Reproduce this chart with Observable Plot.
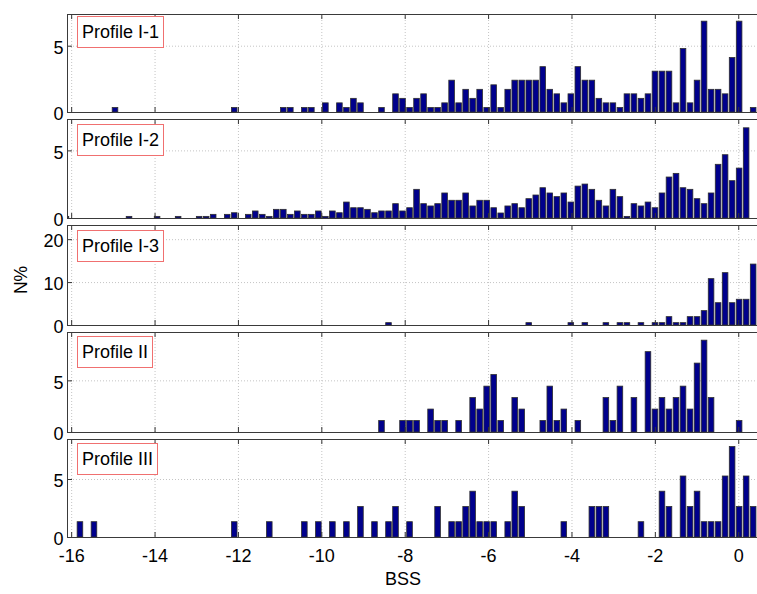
<!DOCTYPE html>
<html>
<head>
<meta charset="utf-8">
<script src="https://cdn.jsdelivr.net/npm/d3@7"></script>
<script src="https://cdn.jsdelivr.net/npm/@observablehq/plot@0.6"></script>
<style>
  body { margin: 0; background: #fff; }
  #chart { position: relative; width: 757px; height: 594px; overflow: hidden;
           font-family: "Liberation Sans", Arial, Helvetica, sans-serif; color: #000; }
  #chart svg { position: absolute; left: 0; }
  .tag { position: absolute; left: 77px; height: 30px; line-height: 30px; padding: 0 4px;
         border: 1px solid #f07070; background: #fff; font-size: 18px; white-space: nowrap; }
  .ylab { position: absolute; left: 21px; top: 280px; font-size: 17.5px;
          transform: translate(-50%, -50%) rotate(-90deg); white-space: nowrap; }
  .xlab { position: absolute; left: 403px; top: 579px; font-size: 18px;
          transform: translate(-50%, -50%); white-space: nowrap; }
</style>
</head>
<body>
<div id="chart"></div>
<script>
// Histogram bins of BSS: centre of the first bin and common bin width
const binStart = -16.126;
const binWidth = 0.1682;

const xTicks = [-16, -14, -12, -10, -8, -6, -4, -2, 0];

// N% per bin, one entry per bin from left to right (99 bins)
const profileI1 = [
  0, 0, 0, 0, 0, 0, 0, 0.34, 0, 0,
  0, 0, 0, 0, 0, 0, 0, 0, 0, 0,
  0, 0, 0, 0, 0.34, 0, 0, 0, 0, 0,
  0, 0.34, 0.34, 0, 0.34, 0.34, 0, 0.69, 0, 0.69,
  0.34, 1.03, 0.69, 0, 0, 0.34, 0, 1.37, 1.03, 0.34,
  1.03, 1.37, 0.34, 0.34, 0.69, 2.40, 0.69, 1.71, 1.03, 1.71,
  0.34, 2.05, 0.34, 1.71, 2.40, 2.40, 2.40, 2.40, 3.42, 1.71,
  1.37, 0.69, 1.37, 3.42, 2.40, 2.40, 1.03, 0.69, 0.69, 0.34,
  1.37, 1.37, 1.03, 1.37, 3.08, 3.08, 3.08, 0.69, 4.79, 0.69,
  2.40, 6.85, 1.71, 1.71, 1.37, 4.11, 6.85, 0, 0.34
];
const profileI2 = [
  0.12, 0, 0, 0, 0, 0, 0, 0, 0, 0.12,
  0, 0, 0, 0.12, 0, 0, 0.12, 0, 0, 0.12,
  0.12, 0.27, 0, 0.27, 0.39, 0, 0.27, 0.52, 0.27, 0.12,
  0.64, 0.64, 0.27, 0.52, 0.27, 0.27, 0.52, 0.12, 0.52, 0.39,
  1.18, 0.76, 0.76, 0.64, 0.39, 0.52, 0.52, 1.06, 0.52, 0.76,
  2.12, 1.06, 0.89, 1.06, 1.85, 1.31, 1.31, 1.85, 0.89, 1.31,
  1.31, 0.76, 0.37, 0.89, 1.06, 0.76, 1.43, 1.70, 2.24, 1.85,
  1.58, 1.85, 1.18, 2.36, 2.51, 2.12, 1.31, 0.89, 2.12, 1.58,
  0.12, 1.06, 0.89, 1.18, 0.76, 1.85, 3.03, 3.30, 2.24, 2.12,
  1.43, 1.06, 1.85, 3.97, 4.68, 2.76, 3.69, 6.67, 0
];
const profileI3 = [
  0, 0, 0, 0, 0, 0, 0, 0, 0, 0,
  0, 0, 0, 0, 0, 0, 0, 0, 0, 0,
  0, 0, 0, 0, 0, 0, 0, 0, 0, 0,
  0, 0, 0, 0, 0, 0, 0, 0, 0, 0,
  0, 0, 0, 0, 0, 0, 0.55, 0, 0, 0,
  0, 0, 0, 0, 0, 0, 0, 0, 0, 0,
  0, 0, 0, 0, 0, 0, 0.55, 0, 0, 0,
  0, 0, 0.55, 0, 0.55, 0, 0, 0.55, 0, 0.55,
  0.55, 0, 0.55, 0, 0.55, 0.55, 1.95, 0.55, 0.55, 1.95,
  1.95, 3.35, 10.8, 5.2, 12.2, 5.2, 6.0, 6.0, 14.2
];
const profileII = [
  0, 0, 0, 0, 0, 0, 0, 0, 0, 0,
  0, 0, 0, 0, 0, 0, 0, 0, 0, 0,
  0, 0, 0, 0, 0, 0, 0, 0, 0, 0,
  0, 0, 0, 0, 0, 0, 0, 0, 0, 0,
  0, 0, 0, 0, 0, 1.11, 0, 0, 1.11, 1.11,
  1.11, 0, 2.22, 1.11, 1.11, 0, 1.11, 0, 3.33, 2.22,
  4.44, 5.56, 1.11, 0, 3.33, 2.22, 0, 0, 1.11, 4.44,
  1.11, 2.22, 0, 1.11, 0, 0, 0, 3.33, 1.11, 4.44,
  0, 3.33, 0, 7.78, 2.22, 3.33, 2.22, 3.33, 4.44, 2.22,
  6.67, 8.89, 3.33, 0, 0, 0, 1.11, 0, 0
];
const profileIII = [
  0, 0, 1.32, 0, 1.32, 0, 0, 0, 0, 0,
  0, 0, 0, 0, 0, 0, 0, 0, 0, 0,
  0, 0, 0, 0, 1.32, 0, 0, 0, 0, 1.32,
  0, 0, 0, 0, 1.32, 0, 1.32, 0, 1.32, 0,
  1.32, 0, 2.63, 0, 1.32, 0, 1.32, 2.63, 0, 1.32,
  0, 0, 0, 2.63, 0, 1.32, 1.32, 2.63, 3.95, 1.32,
  1.32, 1.32, 0, 1.32, 3.95, 2.63, 0, 0, 0, 0,
  0, 1.32, 0, 0, 0, 2.63, 2.63, 2.63, 0, 0,
  0, 0, 1.32, 0, 0, 3.95, 2.63, 0, 5.26, 2.63,
  3.95, 1.32, 1.32, 1.32, 5.26, 7.8, 2.63, 5.26, 2.63
];

const panelNames = ["Profile I-1", "Profile I-2", "Profile I-3", "Profile II", "Profile III"];
const panelValues = [profileI1, profileI2, profileI3, profileII, profileIII];
const panelYMax = [7.39, 7.32, 23.3, 9.68, 8.45];
const panelYTicks = [[0, 5], [0, 5], [0, 10, 20], [0, 5], [0, 5]];

// Panel geometry on the page
const panelTop = [14, 119, 225, 332, 439];
const panelHeight = [98, 99, 100, 100, 98];
const tagTop = [16, 123.5, 229.5, 335.5, 442.5];

const W = 757, ML = 67, MR = 0;
const plotW = W - ML - MR;
const xDomain = [-16.1, 0.45];

const chart = document.getElementById("chart");

panelValues.forEach((values, p) => {
  const last = p === panelValues.length - 1;
  const h = panelHeight[p];
  const mb = last ? 60 : 0;
  const yTicks = panelYTicks[p];
  const bars = values
    .map((v, i) => {
      const c = binStart + i * binWidth;
      return {x1: c - 0.4 * binWidth, x2: c + 0.4 * binWidth, y0: 0, v};
    })
    .filter(d => d.v > 0);

  const marks = [
    // dotted grid
    Plot.ruleX(xTicks, {stroke: "#c4c4c4", strokeDasharray: "1,2"}),
    Plot.ruleY(yTicks.filter(t => t > 0), {stroke: "#c4c4c4", strokeDasharray: "1,2"}),
    // histogram bars
    Plot.rect(bars, {x1: "x1", x2: "x2", y1: "y0", y2: "v", fill: "#00008c",
                     stroke: "#2e2e2e", strokeWidth: 0.8, clip: true}),
    // inward tick marks on the bottom, top and left edges
    Plot.ruleX(xTicks, {insetTop: h - 5, stroke: "#333"}),
    Plot.ruleX(xTicks, {insetBottom: h - 5, stroke: "#333"}),
    Plot.ruleY(yTicks, {insetRight: plotW - 5, stroke: "#333"}),
    Plot.frame({stroke: "#3a3a3a"}),
    Plot.axisY({ticks: yTicks, tickSize: 0, tickPadding: 4, dy: 2, fontSize: 18,
                label: null, tickFormat: d => String(d)})
  ];
  if (last) {
    marks.push(Plot.axisX({ticks: xTicks, tickSize: 0, tickPadding: 12, fontSize: 18,
                           label: null, tickFormat: d => String(d)}));
  }

  const svg = Plot.plot({
    width: W,
    height: h + mb,
    marginLeft: ML,
    marginRight: MR,
    marginTop: 0,
    marginBottom: mb,
    x: {domain: xDomain, axis: last ? undefined : null},
    y: {domain: [0, panelYMax[p]], label: null},
    style: {overflow: "visible", background: "transparent", color: "#000",
            fontFamily: "'Liberation Sans', Arial, Helvetica, sans-serif", fontSize: "18px"},
    marks
  });
  svg.style.top = panelTop[p] + "px";
  chart.appendChild(svg);

  const tag = document.createElement("div");
  tag.className = "tag";
  tag.style.top = tagTop[p] + "px";
  tag.textContent = panelNames[p];
  chart.appendChild(tag);
});

const ylab = document.createElement("div");
ylab.className = "ylab";
ylab.textContent = "N%";
chart.appendChild(ylab);

const xlab = document.createElement("div");
xlab.className = "xlab";
xlab.textContent = "BSS";
chart.appendChild(xlab);
</script>
</body>
</html>
